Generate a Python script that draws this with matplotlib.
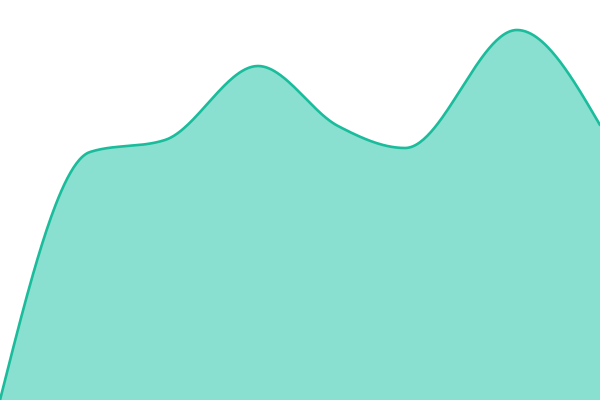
import numpy as np
import matplotlib
matplotlib.use("Agg")
import matplotlib.pyplot as plt

# readings (x in days, y in units)
days = [0, 9, 16.5, 25.8, 33.8, 40.5, 51.7, 60]
values = [0, 62, 65, 83.5, 68.5, 63, 92.5, 68.75]

LINE = "#1abc9c"
FILL = "#8ae0d0"


def monotone_slopes(x, y):
    # same tangents as d3.curveMonotoneX
    x = np.asarray(x, float)
    y = np.asarray(y, float)
    h = np.diff(x)
    s = np.diff(y) / h
    t = np.zeros(len(x))
    for i in range(1, len(x) - 1):
        s0, s1 = s[i - 1], s[i]
        p = (s0 * h[i] + s1 * h[i - 1]) / (h[i - 1] + h[i])
        t[i] = (np.sign(s0) + np.sign(s1)) * min(abs(s0), abs(s1), 0.5 * abs(p))
    t[0] = (3 * s[0] - t[1]) / 2
    t[-1] = (3 * s[-1] - t[-2]) / 2
    return t


def monotone_curve(x, y, n=60):
    x = np.asarray(x, float)
    y = np.asarray(y, float)
    t = monotone_slopes(x, y)
    xs, ys = [], []
    for i in range(len(x) - 1):
        dx = x[i + 1] - x[i]
        u = np.linspace(0, 1, n, endpoint=(i == len(x) - 2))
        p0, p3 = y[i], y[i + 1]
        p1 = p0 + t[i] * dx / 3
        p2 = p3 - t[i + 1] * dx / 3
        xs.append(x[i] + u * dx)
        ys.append((1 - u) ** 3 * p0 + 3 * (1 - u) ** 2 * u * p1
                  + 3 * (1 - u) * u ** 2 * p2 + u ** 3 * p3)
    return np.concatenate(xs), np.concatenate(ys)


def main():
    fig = plt.figure(figsize=(6, 4), dpi=100)
    ax = fig.add_axes([0, 0, 1, 1])
    cx, cy = monotone_curve(days, values)
    ax.fill_between(cx, 0, cy, color=FILL, linewidth=0)
    ax.plot(cx, cy, color=LINE, linewidth=1.9, solid_capstyle="round")
    ax.set_xlim(days[0], days[-1])
    ax.set_ylim(0, 100)
    ax.axis("off")
    fig.savefig("out.png", dpi=100)


if __name__ == '__main__':
    main()
